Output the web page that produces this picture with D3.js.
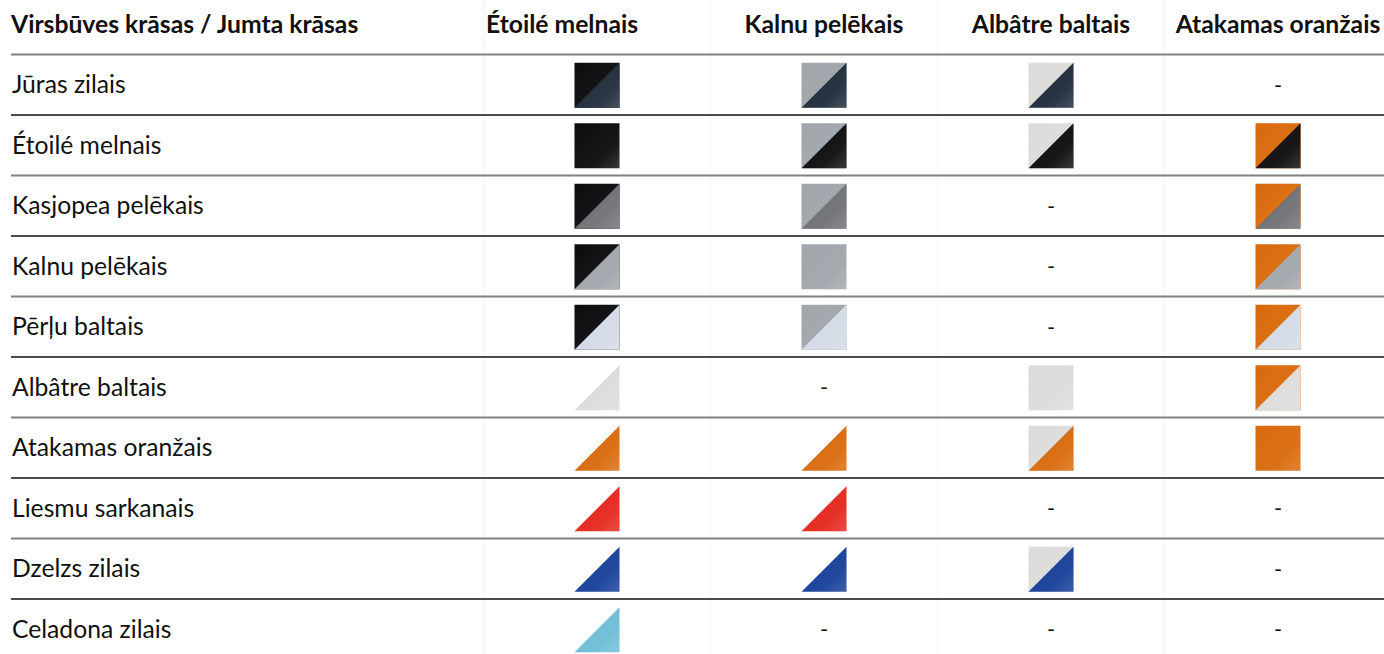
<!DOCTYPE html>
<html>
<head>
<meta charset="utf-8">
<script src="https://cdn.jsdelivr.net/npm/d3@7"></script>
<style>
  body { margin: 0; background: #fff; }
  svg { display: block; }
  text { font-family: Lato, "Noto Sans", sans-serif; fill: #111; }
</style>
</head>
<body>
<div id="chart"></div>
<script>
// Table data ------------------------------------------------------------------

var title = "Virsbūves krāsas / Jumta krāsas";

var roofNames = ["Étoilé melnais", "Kalnu pelēkais", "Albâtre baltais", "Atakamas oranžais"];
var roofColors = ["#0c0c0e", "#a1a6ac", "#dcdcda", "#d96a0c"];

var bodyNames = ["Jūras zilais", "Étoilé melnais", "Kasjopea pelēkais", "Kalnu pelēkais", "Pērļu baltais",
  "Albâtre baltais", "Atakamas oranžais", "Liesmu sarkanais", "Dzelzs zilais", "Celadona zilais"];
var bodyColors = ["#1f2b3a", "#0c0c0e", "#707175", "#a1a6ac", "#d4dbe6",
  "#dcdcda", "#d96a0c", "#e5271d", "#163f98", "#6dbdd6"];

// 2 = roof + body, 1 = body only, 0 = not available
var combos = [
  [2, 2, 2, 0],
  [2, 2, 2, 2],
  [2, 2, 0, 2],
  [2, 2, 0, 2],
  [2, 2, 0, 2],
  [1, 0, 2, 2],
  [1, 1, 2, 2],
  [1, 1, 0, 0],
  [1, 1, 2, 0],
  [1, 0, 0, 0]
];

// Layout ----------------------------------------------------------------------

var width = 1384, height = 654;
var sw = 45;                       // swatch size
var fontSize = "24.7px";
var headerShift = [-35, 0, 0, 0];  // header text offset from the column centre

var svg = d3.select("#chart").append("svg")
  .attr("width", width)
  .attr("height", height);

var defs = svg.append("defs");
var shine = defs.append("linearGradient")
  .attr("id", "shine")
  .attr("x1", 0).attr("y1", 0).attr("x2", 1).attr("y2", 1);
shine.append("stop").attr("offset", "0%").attr("stop-color", "#fff").attr("stop-opacity", 0.0);
shine.append("stop").attr("offset", "70%").attr("stop-color", "#fff").attr("stop-opacity", 0.05);
shine.append("stop").attr("offset", "100%").attr("stop-color", "#fff").attr("stop-opacity", 0.18);

var y = d3.scaleBand()
  .domain(bodyNames)
  .range([54.5, 54.5 + 60.5 * bodyNames.length]);

var x = d3.scalePoint()
  .domain(roofNames)
  .range([597, 1278]);

// faint column separators
var seps = roofNames.map(function(d) { return x(d) - x.step() / 2; });
svg.append("g").selectAll("line")
  .data(seps)
  .enter().append("line")
    .attr("x1", function(d) { return d; })
    .attr("x2", function(d) { return d; })
    .attr("y1", 0)
    .attr("y2", height)
    .style("stroke", "#f6f6f6")
    .style("stroke-width", 1);

// header
svg.append("text")
  .attr("x", 11)
  .attr("y", 33)
  .style("font-size", fontSize)
  .style("font-weight", "bold")
  .text(title);

svg.append("g").selectAll("text")
  .data(roofNames)
  .enter().append("text")
    .attr("x", function(d, i) { return x(d) + headerShift[i]; })
    .attr("y", 33)
    .attr("text-anchor", "middle")
    .style("font-size", fontSize)
    .style("font-weight", "bold")
    .text(function(d) { return d; });

// row rules, alternating grey / black
svg.append("g").selectAll("line")
  .data(bodyNames)
  .enter().append("line")
    .attr("x1", 11)
    .attr("x2", width)
    .attr("y1", function(d) { return y(d); })
    .attr("y2", function(d) { return y(d); })
    .style("stroke", function(d, i) { return i % 2 ? "#111" : "#808080"; })
    .style("stroke-width", function(d, i) { return i % 2 ? 1.6 : 2.2; });

// rows
var rows = svg.append("g").selectAll("g")
  .data(bodyNames)
  .enter().append("g")
    .attr("transform", function(d) { return "translate(0," + (y(d) + y.bandwidth() / 2) + ")"; });

rows.append("text")
  .attr("x", 12)
  .attr("y", 8.5)
  .style("font-size", fontSize)
  .text(function(d) { return d; });

var cells = rows.selectAll("g.cell")
  .data(function(d, r) {
    return roofNames.map(function(c, k) {
      return {row: r, col: k, type: combos[r][k], same: bodyNames[r] === c};
    });
  })
  .enter().append("g")
    .attr("class", "cell")
    .attr("transform", function(d) { return "translate(" + x(roofNames[d.col]) + ",0)"; });

cells.filter(function(d) { return d.type === 0; })
  .append("text")
    .attr("text-anchor", "middle")
    .attr("y", 8)
    .style("font-size", "22px")
    .text("-");

var sq = cells.filter(function(d) { return d.type > 0; })
  .append("g")
    .attr("transform", "translate(" + (-sw / 2) + "," + (-sw / 2 + 0.5) + ")");

var full = "M0,0H" + sw + "V" + sw + "H0Z";
var lowerRight = "M" + sw + ",0V" + sw + "H0Z";

// roof colour as a whole square underneath (no seam on the diagonal)
sq.filter(function(d) { return d.type === 2; })
  .append("path")
    .attr("d", full)
    .attr("fill", function(d) { return d.same ? bodyColors[d.row] : roofColors[d.col]; });

// lower-right triangle: body colour
sq.filter(function(d) { return !(d.type === 2 && d.same); })
  .append("path")
    .attr("d", lowerRight)
    .attr("fill", function(d) { return bodyColors[d.row]; });

sq.append("path")
  .attr("d", function(d) { return d.type === 2 ? full : lowerRight; })
  .attr("fill", "url(#shine)");
</script>
</body>
</html>
